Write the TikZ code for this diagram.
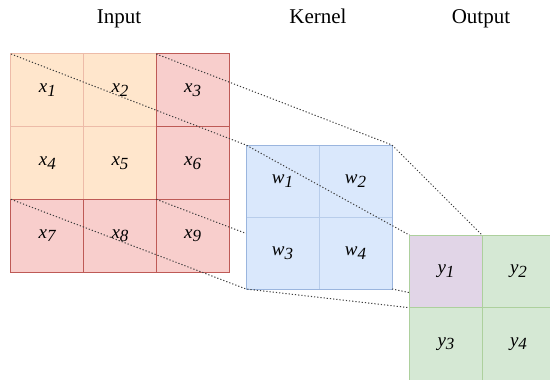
\documentclass[tikz,border=0pt]{standalone}
\usepackage{fontspec}
\setmainfont{Liberation Serif}
\newcommand{\clbl}[2]{\fontsize{19}{19}\selectfont\textit{#1}\raisebox{-3.5pt}{\fontsize{17}{17}\selectfont\textit{#2}}}
\definecolor{orfill}{HTML}{FFE6CC}
\definecolor{orline}{HTML}{EDBBA8}
\definecolor{rdfill}{HTML}{F8CECC}
\definecolor{rdline}{HTML}{BE5A56}
\definecolor{blfill}{HTML}{DAE8FC}
\definecolor{blout}{HTML}{9AB5DE}
\definecolor{blin}{HTML}{B8CDEB}
\definecolor{gnfill}{HTML}{D5E8D4}
\definecolor{gnline}{HTML}{ADD09D}
\definecolor{pufill}{HTML}{E1D5E7}
\definecolor{dotc}{HTML}{3C3C3C}
\pgfdeclarelayer{layA}
\pgfdeclarelayer{layB}
\pgfdeclarelayer{layC}
\pgfdeclarelayer{layD}
\pgfsetlayers{layA,layB,layC,layD,main}
\tikzset{
  cellbox/.style={draw, inner sep=0pt, outer sep=0pt, line width=1pt},
  incell/.style={cellbox, minimum width=72.67pt, minimum height=72.67pt},
  orcell/.style={incell, fill=orfill, draw=orline},
  rdcell/.style={incell, fill=rdfill, draw=rdline},
  kcell/.style={cellbox, minimum width=73pt, minimum height=72pt, fill=blfill, draw=blin},
  ocell/.style={cellbox, minimum width=72.5pt, minimum height=72.5pt, fill=gnfill, draw=gnline},
  dotline/.style={dotc, line width=1pt, dash pattern=on 1.2pt off 2pt},
  title/.style={font=\fontsize{21}{21}\selectfont, anchor=base, inner sep=0pt}
}
\begin{document}
\begin{tikzpicture}[x=1pt,y=-1pt]
\useasboundingbox (0,0) rectangle (550,380);
\clip (0,0) rectangle (550,380);
% titles
\node[title] (tin) at (119,23.3) {Input};
\node[title] (tk) at (318,23.3) {Kernel};
\node[title] (tout) at (481,23.3) {Output};
% input
\begin{pgfonlayer}{layA}
\node[orcell] (x1) at (47.33,90.33) {\clbl{x}{1}};
\node[orcell] (x2) at (120,90.33) {\clbl{x}{2}};
\node[orcell] (x4) at (47.33,163) {\clbl{x}{4}};
\node[orcell] (x5) at (120,163) {\clbl{x}{5}};
\node[rdcell] (x3) at (192.67,90.33) {\clbl{x}{3}};
\node[rdcell] (x6) at (192.67,163) {\clbl{x}{6}};
\node[rdcell] (x7) at (47.33,235.67) {\clbl{x}{7}};
\node[rdcell] (x8) at (120,235.67) {\clbl{x}{8}};
\node[rdcell] (x9) at (192.67,235.67) {\clbl{x}{9}};
\end{pgfonlayer}
% kernel
\begin{pgfonlayer}{layC}
\node[kcell] (w1) at (282.5,181) {\clbl{w}{1}};
\node[kcell] (w2) at (355.5,181) {\clbl{w}{2}};
\node[kcell] (w3) at (282.5,253) {\clbl{w}{3}};
\node[kcell] (w4) at (355.5,253) {\clbl{w}{4}};
\draw[blout, line width=1pt] (w1.north west) rectangle (w4.south east);
\end{pgfonlayer}
% output
\node[ocell, fill=pufill] (y1) at (446,271.5) {\clbl{y}{1}};
\node[ocell] (y2) at (518.5,271.5) {\clbl{y}{2}};
\node[ocell] (y3) at (446,344) {\clbl{y}{3}};
\node[ocell] (y4) at (518.5,344) {\clbl{y}{4}};
% connectors
\begin{pgfonlayer}{layB}
\draw[dotline] (x9.north west) -- (w4.south east);
\end{pgfonlayer}
\begin{pgfonlayer}{layD}
\draw[dotline] (x1.north west) -- (w1.north west) -- (y1.north west);
\draw[dotline] (x3.north west) -- (w2.north east) -- (y1.north east);
\draw[dotline] (x7.north west) -- (w3.south west) -- (y1.south west);
\draw[dotline] (w4.south east) -- (y1.south east);
\end{pgfonlayer}
\end{tikzpicture}
\end{document}
